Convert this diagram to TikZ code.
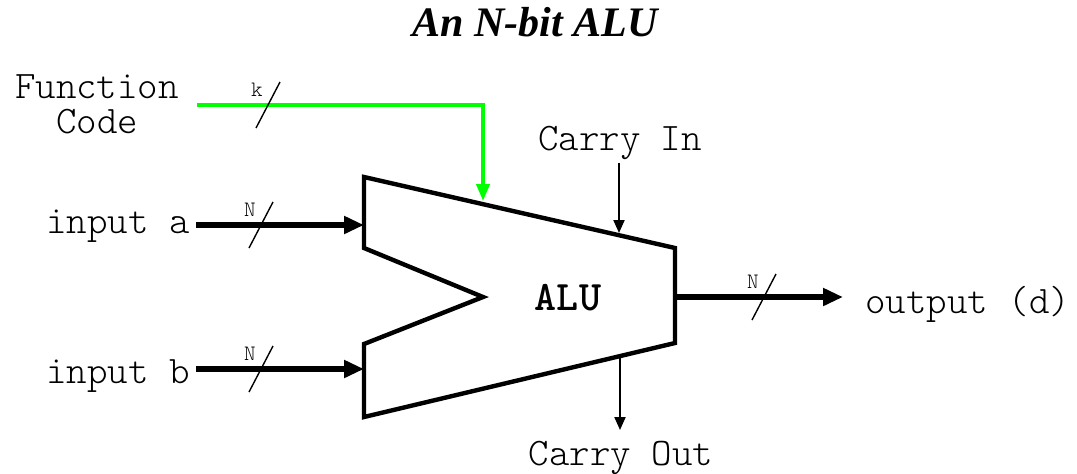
\documentclass[tikz,border=0pt]{standalone}
\usepackage{fontspec}
\setmainfont{Liberation Serif}
\setmonofont{lmmonolt10-regular}[Extension=.otf, BoldFont=lmmonolt10-bold]
\usetikzlibrary{arrows.meta}
\definecolor{fgreen}{RGB}{0,255,0}
\begin{document}
\begin{tikzpicture}[x=0.5pt,y=-0.5pt,
  lbl/.style={font=\fontsize{19.5}{19.5}\selectfont\ttfamily, inner sep=0pt},
  buslbl/.style={font=\fontsize{11}{12}\selectfont\ttfamily, inner sep=0pt},
  bus/.style={line width=3.3pt, -{Triangle[length=10pt,width=8.5pt]}},
  ctl/.style={line width=1pt, -{Triangle[length=6.5pt,width=5.5pt]}},
  fcode/.style={line width=2pt, draw=fgreen, line join=miter, -{Triangle[length=8.5pt,width=6.5pt]}},
  alubody/.style={line width=2.2pt, line join=miter},
  pics/busmark/.style={code={
    \draw[line width=0.7pt] (-12,23) -- (12,-23);
    \node[buslbl, anchor=base] at (-11,-9) {#1};}}
]
\useasboundingbox (0,0) rectangle (1077,473);

% title
\node[font=\fontsize{21}{25}\selectfont\bfseries\itshape, anchor=base, inner sep=0pt] (title) at (535,36) {An N-bit ALU};

% ALU body
\coordinate (tl) at (364,177);
\coordinate (tr) at (675,248);
\coordinate (br) at (675,343);
\coordinate (bl) at (364,417);
\coordinate (nb) at (364,344);
\coordinate (np) at (483,297);
\coordinate (nt) at (364,248);
\draw[alubody] (tl) -- (tr) -- (br) -- (bl) -- (nb) -- (np) -- (nt) -- cycle;
\node[font=\fontsize{21}{23}\selectfont\ttfamily\bfseries] (alu) at (568,298) {ALU};

% ports
\coordinate (ina-s) at (196,225);
\coordinate (ina-e) at (364,225);
\coordinate (inb-s) at (196,369);
\coordinate (inb-e) at (364,369);
\coordinate (out-s) at (675,297);
\coordinate (out-e) at (843,297);
\coordinate (fc-s) at (197,105);
\coordinate (fc-e) at (483,201);
\coordinate (ci-s) at (619,163);
\coordinate (ci-e) at (619,233);
\coordinate (co-s) at (620,358);
\coordinate (co-e) at (620,430);

% labels
\node[lbl, anchor=base east] (ina) at (190,233) {input a};
\node[lbl, anchor=base east] (inb) at (190,383) {input b};
\node[lbl, anchor=base west] (out) at (865,313) {output (d)};
\node[lbl, anchor=base] (cin) at (620,150) {Carry In};
\node[lbl, anchor=base] (cout) at (621,465) {Carry Out};
\node[lbl, anchor=base] (fc1) at (97,98) {Function};
\node[lbl, anchor=base] (fc2) at (97,133) {Code};

% connectors
\draw[bus] (ina-s) -- (ina-e);
\draw[bus] (inb-s) -- (inb-e);
\draw[bus] (out-s) -- (out-e);
\draw[fcode] (fc-s) -| (fc-e);
\draw[ctl] (ci-s) -- (ci-e);
\draw[ctl] (co-s) -- (co-e);

% bus width marks
\pic at (261,225) {busmark=N};
\pic at (261,369) {busmark=N};
\pic at (764,297) {busmark=N};
\pic at (268,105) {busmark=k};
\end{tikzpicture}
\end{document}
